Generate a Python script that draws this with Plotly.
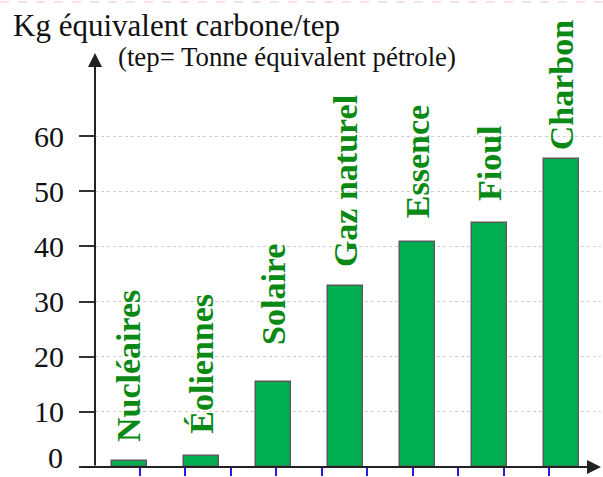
import plotly.graph_objects as go

# ---- data ----
categories = ["Nucléaires", "Éoliennes", "Solaire", "Gaz naturel", "Essence", "Fioul", "Charbon"]
values = [1.1, 1.9, 15.4, 32.9, 40.8, 44.2, 55.8]
y_ticks = [0, 10, 20, 30, 40, 50, 60]

title_text = "Kg équivalent carbone/tep"
subtitle_text = "(tep= Tonne équivalent pétrole)"

# ---- layout geometry (pixels) ----
W, H = 603, 477
ML, MR, MT, MB = 95, 2, 53, 10
PW, PH = W - ML - MR, H - MT - MB
px_per_y = 5.51
px_per_x = 72.1
first_center_px = 129.2
x0 = -(first_center_px - ML) / px_per_x
x1 = x0 + PW / px_per_x
y0 = -0.02
ytop = y0 + PH / px_per_y

def px_to_paper(px, py):
    return (px - ML) / PW, (H - MB - py) / PH

label_gap = [17, 21, 35, 16, 22, 20, 7]  # pixel gap between bar top and label

xs = list(range(len(categories)))

fig = go.Figure()
fig.add_trace(go.Bar(
    x=xs, y=values, width=0.49,
    marker=dict(color="#00B050", line=dict(color="#5a5a5a", width=1.5)),
    hoverinfo="skip", showlegend=False,
))

annotations = []
for xi, v, name, g in zip(xs, values, categories, label_gap):
    annotations.append(dict(
        x=xi, y=v, xref="x", yref="y", text=f"<b>{name}</b>", showarrow=False,
        textangle=-90, xanchor="center", yanchor="bottom", yshift=g,
        font=dict(family="Liberation Serif", size=34, color="#0a8a14"),
    ))

# axis arrows
annotations.append(dict(
    x=x0, y=ytop, ax=x0, ay=0, xref="x", yref="y", axref="x", ayref="y",
    text="", showarrow=True, arrowhead=2, arrowsize=1.4, arrowwidth=2,
    arrowcolor="#222222", standoff=0, startstandoff=0,
))
annotations.append(dict(
    x=x1, y=0, ax=x0 - 15 / px_per_x, ay=0, xref="x", yref="y", axref="x", ayref="y",
    text="", showarrow=True, arrowhead=2, arrowsize=1.4, arrowwidth=2,
    arrowcolor="#222222", standoff=0, startstandoff=0,
))

tx, ty = px_to_paper(11, 6)
annotations.append(dict(
    x=tx, y=ty, xref="paper", yref="paper", text=title_text, showarrow=False,
    xanchor="left", yanchor="top",
    font=dict(family="Liberation Serif", size=31, color="#111111"),
))
sx, sy = px_to_paper(116, 57)
annotations.append(dict(
    x=sx, y=sy, xref="paper", yref="paper", text=subtitle_text, showarrow=False,
    xanchor="left", yanchor="middle",
    font=dict(family="Liberation Serif", size=26.8, color="#111111"),
))

# the bottom tick label ("0") is drawn as an annotation so it stays inside the page
tick_font = dict(family="Liberation Serif", size=30, color="#111111")
ticktext = ["" if v == y_ticks[0] else str(v) for v in y_ticks]
zx, zy = px_to_paper(65, 476)
annotations.append(dict(
    x=zx, y=zy, xref="paper", yref="paper", text=str(y_ticks[0]), showarrow=False,
    xanchor="right", yanchor="bottom", font=tick_font,
))

# blue minor ticks along the x axis
blue_tick_px = [ML - 1 + 45.5 * k for k in range(11)]
blue_tickvals = [(p - ML) / px_per_x + x0 for p in blue_tick_px]

px0, py0 = px_to_paper(0, 2)
px1, _ = px_to_paper(W, 2)

fig.update_layout(
    width=W, height=H, autosize=False,
    margin=dict(l=ML, r=MR, t=MT, b=MB, pad=0, autoexpand=False),
    paper_bgcolor="white", plot_bgcolor="white",
    xaxis=dict(
        range=[x0, x1], showgrid=False, zeroline=False, showline=False,
        tickmode="array", tickvals=blue_tickvals, ticktext=[""] * len(blue_tickvals),
        ticks="outside", ticklen=8, tickwidth=2, tickcolor="#2020e0",
        showticklabels=False, fixedrange=True, automargin=False,
    ),
    yaxis=dict(
        range=[y0, ytop], tickmode="array", tickvals=y_ticks, ticktext=ticktext,
        ticks="outside", ticklen=15, tickwidth=2, tickcolor="#333333",
        showgrid=True, gridcolor="#cfcfcf", griddash="dot", gridwidth=1,
        zeroline=False, showline=False, ticklabelstandoff=9,
        automargin=False, tickfont=tick_font, fixedrange=True,
    ),
    annotations=annotations,
    shapes=[dict(type="line", xref="paper", yref="paper", x0=px0, x1=px1, y0=py0, y1=py0,
                 line=dict(color="#f2c4c4", width=1, dash="dash"))],
    bargap=0,
)

fig.write_html("out.html", config={"displayModeBar": False})
